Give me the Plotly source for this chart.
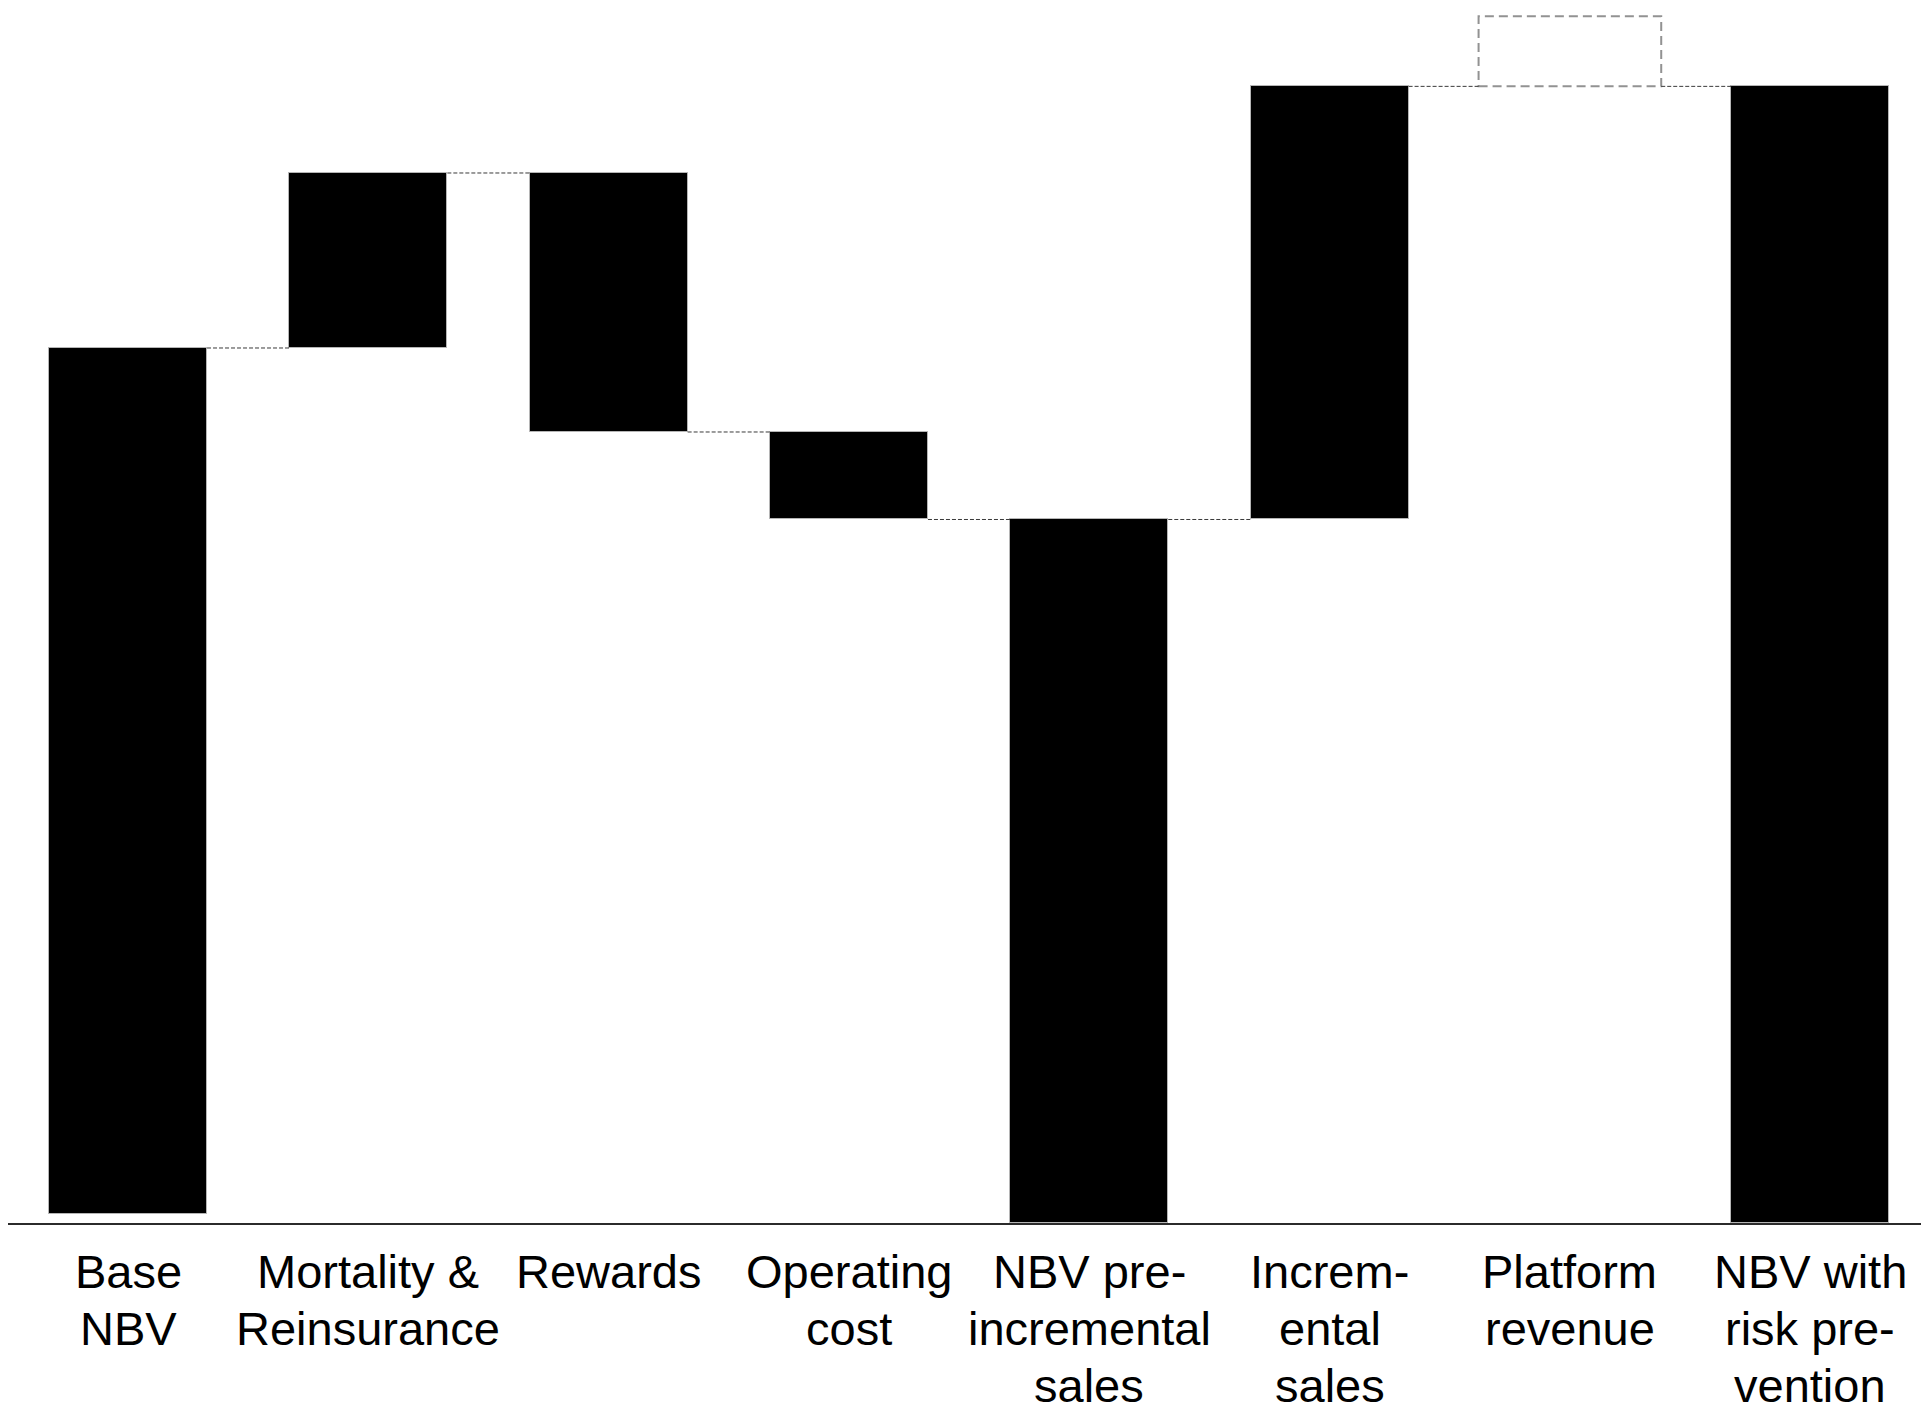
import plotly.graph_objects as go

# Waterfall: new business value bridge
categories = [
    "Base<br>NBV",
    "Mortality &<br>Reinsurance",
    "Rewards",
    "Operating<br>cost",
    "NBV pre-<br>incremental<br>sales",
    "Increm-<br>ental<br>sales",
    "Platform<br>revenue",
    "NBV with<br>risk pre-<br>vention",
]
measures = ["absolute", "relative", "relative", "relative", "total", "relative", "relative", "total"]
values = [100.0, 20.0, -29.6, -10.0, None, 49.5, 0.0, None]
platform_upside = 8.0      # potential, not included in the total
first_bar_floor = 1.0      # opening column sits just above the axis

BAR_W = 0.6575
GHOST_W = 0.76
Y_MAX = 139.77

# cumulative levels, bar bottoms and tops
bottoms, tops, levels = [], [], []
level = 0.0
for m, v in zip(measures, values):
    if m == "absolute":
        level = v
        bottoms.append(first_bar_floor)
        tops.append(v)
    elif m == "relative":
        lo, hi = sorted([level, level + v])
        bottoms.append(lo)
        tops.append(hi)
        level += v
    else:
        bottoms.append(0.0)
        tops.append(level)
    levels.append(level)

ghost_idx = categories.index("Platform<br>revenue")
idx = [i for i in range(len(categories)) if i != ghost_idx]

fig = go.Figure()
fig.add_trace(go.Bar(
    x=idx,
    y=[tops[i] - bottoms[i] for i in idx],
    base=[bottoms[i] for i in idx],
    width=BAR_W,
    marker=dict(color="#000000", line=dict(color="#b5b5b5", width=1)),
    hoverinfo="skip",
    showlegend=False,
))

# dashed outline for the platform revenue potential
g_level = levels[ghost_idx]
fig.add_shape(type="rect", xref="x", yref="y",
              x0=ghost_idx - GHOST_W / 2, x1=ghost_idx + GHOST_W / 2,
              y0=g_level, y1=g_level + platform_upside,
              line=dict(color="#929292", width=2, dash="9px,5px"),
              fillcolor="rgba(0,0,0,0)", layer="above")

# connectors between neighbouring columns
def half_w(i):
    return GHOST_W / 2 if i == ghost_idx else BAR_W / 2

for i in range(len(categories) - 1):
    y = levels[i]
    fig.add_shape(type="line", xref="x", yref="y",
                  x0=i + half_w(i), x1=i + 1 - half_w(i + 1), y0=y, y1=y,
                  line=dict(color="#3a3a3a", width=1, dash="4px,2px"))

# category labels, one annotation per text line
LINE_GAP = 57
FIRST_SHIFT = -20
for i, lab in enumerate(categories):
    for k, part in enumerate(lab.split("<br>")):
        fig.add_annotation(x=i, xref="x", y=0, yref="paper",
                           text=part, showarrow=False,
                           xanchor="center", yanchor="top",
                           yshift=FIRST_SHIFT - k * LINE_GAP,
                           font=dict(family="Liberation Sans, Arial, sans-serif",
                                     size=47, color="#000000"))

fig.update_layout(
    width=1921, height=1408,
    margin=dict(l=8, r=0, t=0, b=185),
    paper_bgcolor="white", plot_bgcolor="white",
    bargap=0,
    xaxis=dict(range=[-0.4994, 7.461], showgrid=False, zeroline=False,
               showticklabels=False, ticks="", showline=True,
               linecolor="#2b2b2b", linewidth=2),
    yaxis=dict(range=[0, Y_MAX], visible=False, showgrid=False, zeroline=False),
)

fig.write_html("out.html", config={"displayModeBar": False})
